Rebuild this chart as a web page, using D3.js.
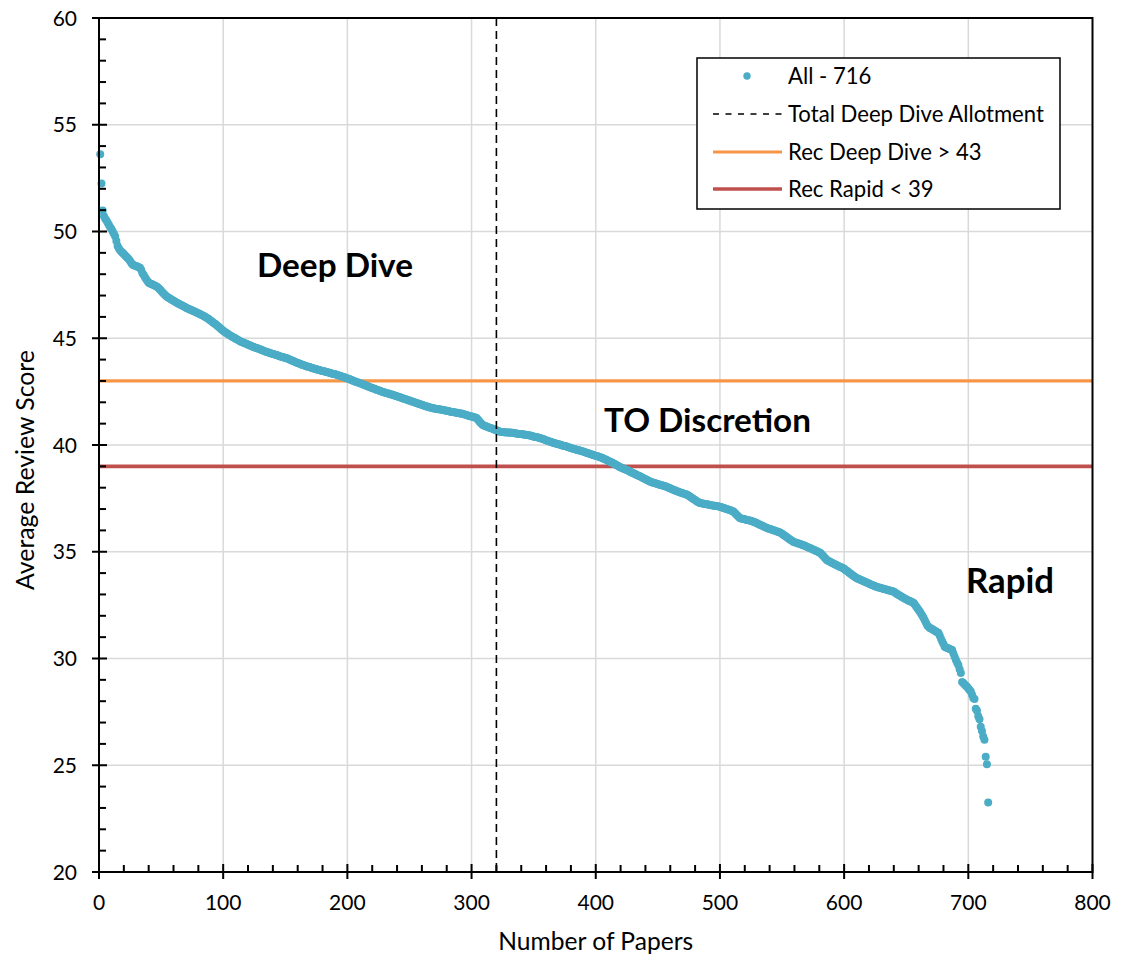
<!DOCTYPE html>
<html><head><meta charset="utf-8">
<script src="https://cdn.jsdelivr.net/npm/d3@7/dist/d3.min.js"></script>
<style>body{margin:0;background:#fff}svg{display:block}</style>
</head><body>
<svg id="c" width="1123" height="955"></svg>
<script>
// ---- data ----
const scores = [
53.62,52.25,50.98,50.72,50.6,50.52,50.41,50.3,50.2,50.12,50.0,49.9,49.78,
49.55,49.32,49.2,49.12,49.05,49.0,
48.95,48.88,48.82,48.76,48.7,48.62,48.52,48.45,
48.42,48.4,48.38,48.35,48.33,48.3,
48.2,48.05,47.96,47.86,47.76,47.68,47.6,
47.57,47.55,47.52,47.5,47.46,47.43,47.4,
47.34,47.28,47.22,47.16,47.1,47.04,46.98,46.93,
46.9,46.86,46.83,46.79,46.76,46.72,46.69,46.65,
46.62,46.59,46.56,46.53,46.5,46.47,46.43,46.4,
46.38,46.35,46.33,46.3,46.28,46.25,46.22,46.2,
46.17,46.14,46.11,46.08,46.05,46.02,45.98,45.95,
45.91,45.87,45.82,45.78,45.73,45.69,45.65,45.6,
45.55,45.5,45.45,45.4,45.35,
45.31,45.27,45.23,45.19,45.15,
45.12,45.08,45.05,45.02,44.98,44.95,44.92,44.88,
44.85,44.83,44.8,44.78,44.75,44.73,44.7,44.68,44.65,44.63,44.6,
44.58,44.56,44.54,44.52,44.5,44.47,44.45,44.43,44.4,44.38,44.36,44.34,44.32,44.3,
44.28,44.26,44.25,44.23,44.21,44.19,44.17,44.15,44.13,44.12,44.1,44.08,44.07,
44.04,44.02,43.99,43.97,43.94,43.92,43.89,43.87,43.84,43.82,43.8,43.77,43.75,
43.73,43.71,43.69,43.67,43.66,43.64,43.62,43.6,43.58,43.57,43.55,43.53,43.52,43.5,
43.48,43.47,43.45,43.44,43.42,43.41,43.39,43.37,43.36,43.34,43.33,43.31,43.3,43.28,
43.26,43.24,43.22,43.2,43.18,43.16,43.14,43.12,43.1,
43.08,43.05,43.03,43.0,42.98,42.96,42.94,42.92,42.9,
42.88,42.85,42.83,42.81,42.78,42.76,42.74,42.71,42.69,42.67,42.65,42.63,42.6,42.58,
42.56,42.54,42.52,42.5,42.48,42.46,42.44,42.42,42.41,42.39,42.37,42.36,42.34,
42.32,42.3,42.28,42.26,42.24,42.22,42.2,42.18,42.16,42.14,42.12,42.1,42.08,42.06,42.04,42.02,
42.0,41.98,41.96,41.94,41.92,41.9,41.88,41.86,41.84,41.82,41.8,41.79,41.77,41.75,41.74,41.72,
41.71,41.7,41.69,41.68,41.67,41.66,41.65,41.64,41.63,41.62,41.6,41.59,41.58,41.56,
41.55,41.54,41.53,41.52,41.51,41.5,41.49,41.48,41.47,41.45,41.44,41.42,41.4,
41.38,41.36,41.35,41.33,41.32,41.3,41.29,41.27,
41.2,41.12,41.05,40.99,40.94,
40.91,40.89,40.87,40.84,40.82,40.8,
40.78,40.76,40.73,40.71,40.69,40.67,40.64,40.62,
40.61,40.61,40.6,40.6,40.59,40.59,40.58,40.58,40.57,40.57,40.56,
40.55,40.54,40.53,40.52,40.52,40.51,40.5,40.49,40.48,40.48,40.47,
40.46,40.44,40.43,40.41,40.4,40.38,40.37,40.36,40.34,40.33,
40.31,40.29,40.27,40.25,40.22,40.2,40.18,40.16,40.14,40.12,40.1,
40.08,40.07,40.05,40.03,40.02,40.0,39.98,39.97,39.95,39.94,39.92,
39.9,39.88,39.86,39.84,39.83,39.81,39.79,39.77,39.76,39.74,39.72,39.71,39.69,
39.67,39.65,39.63,39.61,39.59,39.57,39.55,39.53,39.51,39.5,39.48,39.46,39.44,39.42,
39.4,39.37,39.35,39.32,39.29,39.26,39.23,39.2,39.18,39.15,
39.12,39.08,39.05,39.02,38.98,38.95,
38.93,38.9,38.88,38.85,38.83,
38.8,38.77,38.74,38.71,38.68,38.66,38.63,38.6,38.57,38.55,38.52,
38.49,38.46,38.43,38.4,38.37,38.34,38.31,38.28,
38.26,38.24,38.22,38.21,38.19,38.17,38.15,38.13,38.12,38.1,38.08,38.07,38.05,
38.02,37.99,37.97,37.94,37.92,37.89,37.87,37.84,37.82,
37.8,37.78,37.76,37.74,37.72,37.7,37.68,37.66,
37.62,37.58,37.54,37.5,37.46,37.42,37.38,37.34,37.31,37.28,
37.27,37.26,37.25,37.24,37.23,37.22,37.2,37.19,
37.18,37.17,37.16,37.15,37.14,37.13,37.12,37.11,
37.09,37.07,37.05,37.03,37.01,36.99,36.97,36.95,36.93,36.9,36.88,
36.82,36.76,36.7,36.64,36.58,
36.56,36.55,36.53,36.52,36.5,36.49,36.47,36.46,36.44,36.43,36.41,
36.38,36.36,36.33,36.3,36.27,36.25,36.22,36.19,36.16,36.14,36.11,
36.09,36.07,36.05,36.03,36.01,35.99,35.97,35.95,35.93,35.91,35.88,
35.84,35.8,35.76,35.72,35.68,35.63,35.59,35.55,35.51,35.47,
35.45,35.43,35.41,35.39,35.37,35.35,35.33,35.31,35.29,35.26,35.24,
35.21,35.18,35.16,35.13,35.1,35.08,35.05,35.02,35.0,34.97,34.94,
34.87,34.81,34.74,34.68,34.61,
34.58,34.55,34.52,34.49,34.46,34.43,34.4,34.37,34.34,34.31,34.29,34.26,34.24,
34.2,34.15,34.11,34.07,34.02,33.98,33.94,33.89,33.85,33.81,33.77,
33.74,33.72,33.69,33.67,33.64,33.61,33.59,33.56,33.54,33.51,33.48,33.46,33.43,33.41,33.38,33.36,
33.34,33.33,33.31,33.29,33.28,33.26,33.24,33.23,33.21,33.19,33.18,33.16,33.15,33.13,
33.09,33.05,33.01,32.98,32.94,32.9,32.87,32.83,
32.8,32.77,32.74,32.71,32.69,32.66,32.63,32.6,
32.52,32.43,32.35,32.27,32.19,
32.1,32.0,31.9,31.78,31.66,31.55,
31.49,31.43,31.4,31.37,31.33,31.3,31.27,31.23,31.2,
31.07,30.93,30.8,30.68,30.55,
30.52,30.5,30.47,30.45,30.42,30.4,
30.24,30.08,29.93,29.8,29.7,29.5,29.32,28.9,
28.85,28.78,28.72,28.68,28.6,28.52,28.45,28.3,28.15,28.1,27.65,
27.55,27.3,27.15,26.8,26.6,26.35,26.2,25.4,25.05,23.25
];
const xTicks = [0,100,200,300,400,500,600,700,800];
const yTicks = [20,25,30,35,40,45,50,55,60];
const deepDiveAllotment = 320;
const recDeepDive = 43;
const recRapid = 39;
const legendLabels = ["All - 716","Total Deep Dive Allotment","Rec Deep Dive > 43","Rec Rapid < 39"];
const regionLabels = ["Deep Dive","TO Discretion","Rapid"];
const xTitle = "Number of Papers";
const yTitle = "Average Review Score";

// ---- layout ----
const FONT = "Lato, 'Open Sans', sans-serif";
const C = {aqua:"#4BACC6", orange:"#F79646", red:"#C0504D", grid:"#D9D9D9"};
const L = 99, R = 1092.5, T = 18, B = 872;
const svg = d3.select("#c");
const x = d3.scaleLinear().domain([0,800]).range([L,R]);
const y = d3.scaleLinear().domain([20,60]).range([B,T]);

function fit(sel, w){
  const n = sel.node(); const fs = parseFloat(sel.attr("font-size"));
  const cw = n.getComputedTextLength();
  sel.attr("font-size", (fs*w/cw).toFixed(2));
}

// gridlines
const g = svg.append("g");
g.selectAll(".vg").data(xTicks.filter(t=>t>0&&t<800)).join("line")
  .attr("x1",d=>x(d)).attr("x2",d=>x(d)).attr("y1",T).attr("y2",B)
  .attr("stroke",C.grid).attr("stroke-width",1.5);
g.selectAll(".hg").data(yTicks.filter(t=>t>20&&t<60)).join("line")
  .attr("y1",d=>y(d)).attr("y2",d=>y(d)).attr("x1",L).attr("x2",R)
  .attr("stroke",C.grid).attr("stroke-width",1.5);

// reference lines
svg.append("line").attr("x1",L).attr("x2",R).attr("y1",y(recDeepDive)).attr("y2",y(recDeepDive))
  .attr("stroke",C.orange).attr("stroke-width",3.2);
svg.append("line").attr("x1",L).attr("x2",R).attr("y1",y(recRapid)).attr("y2",y(recRapid))
  .attr("stroke",C.red).attr("stroke-width",3.6);

// points
svg.append("g").selectAll("circle").data(scores).join("circle")
  .attr("cx",(d,i)=>x(i+1)).attr("cy",d=>y(d)).attr("r",4.0).attr("fill",C.aqua);

// dashed allotment line
svg.append("line").attr("x1",x(deepDiveAllotment)).attr("x2",x(deepDiveAllotment))
  .attr("y1",T).attr("y2",B).attr("stroke","#000").attr("stroke-width",1.6)
  .attr("stroke-dasharray","8,5");

// frame
svg.append("rect").attr("x",L).attr("y",T).attr("width",R-L).attr("height",B-T)
  .attr("fill","none").attr("stroke","#000").attr("stroke-width",2);

// ticks
const tk = svg.append("g").attr("stroke","#000").attr("stroke-width",2);
tk.selectAll(".xmaj").data(xTicks).join("line")
  .attr("x1",d=>x(d)).attr("x2",d=>x(d)).attr("y1",B-8).attr("y2",B+7);
tk.selectAll(".xmin").data(d3.range(20,800,20).filter(v=>v%100)).join("line")
  .attr("x1",d=>x(d)).attr("x2",d=>x(d)).attr("y1",B-7).attr("y2",B);
tk.selectAll(".ymaj").data(yTicks).join("line")
  .attr("y1",d=>y(d)).attr("y2",d=>y(d)).attr("x1",L-7).attr("x2",L+8);
tk.selectAll(".ymin").data(d3.range(21,60,1).filter(v=>v%5)).join("line")
  .attr("y1",d=>y(d)).attr("y2",d=>y(d)).attr("x1",L).attr("x2",L+7);

// tick labels
svg.append("g").selectAll("text").data(xTicks).join("text")
  .attr("x",d=>x(d)).attr("y",910).attr("text-anchor","middle")
  .attr("font-family",FONT).attr("font-size",21).attr("fill","#000").text(d=>d);
svg.append("g").selectAll("text").data(yTicks).join("text")
  .attr("x",77).attr("y",d=>y(d)).attr("dy","0.36em").attr("text-anchor","end")
  .attr("font-family",FONT).attr("font-size",21).attr("fill","#000").text(d=>d);

// axis titles
const xt = svg.append("text").attr("x",(L+R)/2).attr("y",950).attr("text-anchor","middle")
  .attr("font-family",FONT).attr("font-size",21).attr("fill","#000").text(xTitle);
fit(xt,195);
const yt = svg.append("text").attr("transform","translate(34,470) rotate(-90)").attr("text-anchor","middle")
  .attr("font-family",FONT).attr("font-size",21).attr("fill","#000").text(yTitle);
fit(yt,240);

// region labels
const regPos = [[257,277,156],[604,432,207],[966,593,88]];
regionLabels.forEach((t,i)=>{
  const s = svg.append("text").attr("x",regPos[i][0]).attr("y",regPos[i][1])
    .attr("font-family",FONT).attr("font-weight","bold").attr("font-size",30).attr("fill","#000").text(t);
  fit(s,regPos[i][2]);
});

// legend
const lg = svg.append("g");
lg.append("rect").attr("x",697).attr("y",58).attr("width",363).attr("height",151)
  .attr("fill","#fff").attr("stroke","#000").attr("stroke-width",1.5);
const rowY = [76,114,152,189];
lg.append("circle").attr("cx",747).attr("cy",rowY[0]).attr("r",3.7).attr("fill",C.aqua);
lg.append("line").attr("x1",713).attr("x2",782).attr("y1",rowY[1]).attr("y2",rowY[1])
  .attr("stroke","#000").attr("stroke-width",1.6).attr("stroke-dasharray","6,6.5");
lg.append("line").attr("x1",713).attr("x2",782).attr("y1",rowY[2]).attr("y2",rowY[2])
  .attr("stroke",C.orange).attr("stroke-width",3.2);
lg.append("line").attr("x1",713).attr("x2",782).attr("y1",rowY[3]).attr("y2",rowY[3])
  .attr("stroke",C.red).attr("stroke-width",3.6);
const lt = lg.selectAll(".lt").data(legendLabels).join("text")
  .attr("x",788).attr("y",(d,i)=>rowY[i]).attr("dy","0.36em")
  .attr("font-family",FONT).attr("font-size",20).attr("fill","#000").text(d=>d);
const w1 = lt.filter((d,i)=>i===1).node().getComputedTextLength();
lt.attr("font-size",(20*256/w1).toFixed(2));
</script>
</body></html>
